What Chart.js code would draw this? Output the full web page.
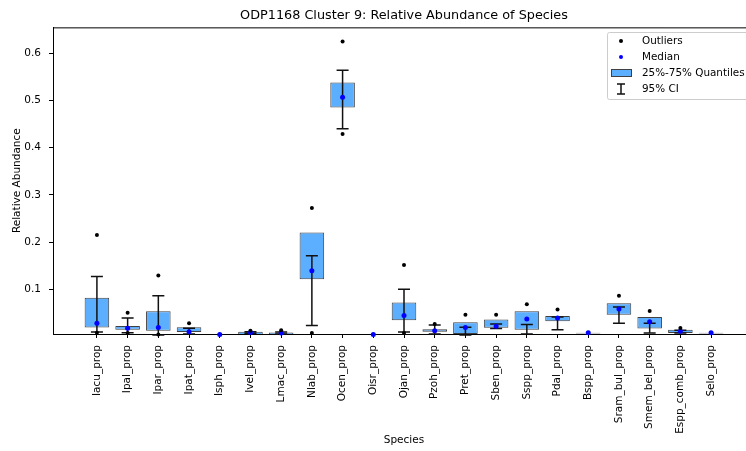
<!DOCTYPE html>
<html>
<head>
<meta charset="utf-8">
<script src="https://cdn.jsdelivr.net/npm/chart.js@4/dist/chart.umd.min.js"></script>
<style>
  html, body { margin: 0; padding: 0; overflow: hidden; background: #fff; }
  #wrap { width: 760px; height: 451px; }
</style>
</head>
<body>
<div id="wrap"><canvas id="chart" width="760" height="451"></canvas></div>
<script>
// ===== Datos =====
const species = ['Iacu_prop','Ipal_prop','Ipar_prop','Ipat_prop','Isph_prop','Ivel_prop','Lmac_prop',
  'Nlab_prop','Ocen_prop','Oisr_prop','Ojan_prop','Pzoh_prop','Pret_prop','Sben_prop','Sspp_prop',
  'Pdal_prop','Bspp_prop','Sram_bul_prop','Smem_bel_prop','Espp_comb_prop','Selo_prop'];

const q25    = [0.019, 0.014, 0.012, 0.009, null, 0.003, 0.003, 0.121, 0.485, null, 0.034, 0.010, 0.005, 0.018, 0.014, 0.032, 0.006, 0.046, 0.0165, 0.007, 0.006];
const q75    = [0.082, 0.022, 0.053, 0.0195, null, 0.010, 0.008, 0.220, 0.538, null, 0.072, 0.015, 0.030, 0.036, 0.053, 0.043, 0.0075, 0.070, 0.041, 0.014, 0.0075];
const median = [0.028, 0.017, 0.019, 0.010, 0.004, 0.008, 0.007, 0.139, 0.507, 0.004, 0.044, 0.012, 0.019, 0.0215, 0.037, 0.039, 0.0075, 0.058, 0.031, 0.011, 0.0075];
const ciLo   = [0.009, 0.0075, 0.003, 0.005, null, 0.006, 0.005, 0.023, 0.440, null, 0.0095, 0.005, 0.003, 0.0165, 0.005, 0.014, null, 0.028, 0.007, 0.007, null];
const ciHi   = [0.127, 0.039, 0.086, 0.017, null, 0.010, 0.009, 0.171, 0.564, null, 0.100, 0.024, 0.0195, 0.026, 0.025, 0.041, null, 0.062, 0.028, 0.013, null];
const outHi  = [0.215, 0.050, 0.129, 0.028, null, 0.012, 0.013, 0.272, 0.625, null, 0.151, 0.026, 0.046, 0.046, 0.068, 0.057, null, 0.086, 0.054, 0.0175, null];
const outLo  = [0.0075, 0.007, 0.004, null, null, null, null, 0.007, 0.429, null, 0.007, null, null, null, null, null, null, null, null, null, null];

const yTicks = [0.1, 0.2, 0.3, 0.4, 0.5, 0.6];

// ===== Armado de datasets =====
const boxData = species.map((_, i) => q25[i] != null ? { x: i, y: [q25[i], q75[i]] } : null).filter(Boolean);
const medData = species.map((_, i) => ({ x: i, y: median[i] }));
const outData = [];
species.forEach((_, i) => {
  if (outHi[i] != null) outData.push({ x: i, y: outHi[i] });
  if (outLo[i] != null) outData.push({ x: i, y: outLo[i] });
});

Chart.defaults.font.family = 'DejaVu Sans';
Chart.defaults.font.size = 10.5;
Chart.defaults.color = '#000';

// Barras de error (IC 95%) dibujadas justo después de las cajas
const ciPlugin = {
  id: 'ci',
  afterDatasetDraw(chart, args) {
    if (args.index !== 0) return;
    const { ctx, scales: { x, y } } = chart;
    ctx.save();
    ctx.strokeStyle = '#111';
    ctx.lineWidth = 1.5;
    species.forEach((_, i) => {
      if (ciLo[i] == null) return;
      const px = x.getPixelForValue(i);
      const p1 = y.getPixelForValue(ciLo[i]);
      const p2 = y.getPixelForValue(ciHi[i]);
      ctx.beginPath();
      ctx.moveTo(px, p1); ctx.lineTo(px, p2);
      ctx.moveTo(px - 6, p1); ctx.lineTo(px + 6, p1);
      ctx.moveTo(px - 6, p2); ctx.lineTo(px + 6, p2);
      ctx.stroke();
    });
    ctx.restore();
  }
};

// Marco superior + leyenda estilo matplotlib
const framePlugin = {
  id: 'frame',
  afterDraw(chart) {
    const { ctx, chartArea: a } = chart;
    ctx.save();
    ctx.strokeStyle = '#000';
    ctx.lineWidth = 1;
    ctx.beginPath();
    ctx.moveTo(a.left, a.top + 0.5); ctx.lineTo(a.right, a.top + 0.5);
    ctx.moveTo(a.right - 0.5, a.top); ctx.lineTo(a.right - 0.5, a.bottom);
    ctx.stroke();

    // leyenda
    const lx = 607.5, ly = 32.5;
    ctx.fillStyle = 'rgba(255,255,255,0.85)';
    ctx.strokeStyle = '#cccccc';
    ctx.beginPath();
    ctx.roundRect(lx, ly, 150, 67, 2);
    ctx.fill(); ctx.stroke();

    const mx = 621, tx = 642;
    const rows = [41, 57, 73, 89];
    ctx.fillStyle = '#000';
    ctx.beginPath(); ctx.arc(mx, rows[0], 2, 0, Math.PI * 2); ctx.fill();
    ctx.fillStyle = '#0000ff';
    ctx.beginPath(); ctx.arc(mx, rows[1], 2, 0, Math.PI * 2); ctx.fill();
    ctx.fillStyle = '#5caeff';
    ctx.strokeStyle = '#404040';
    ctx.fillRect(611.5, rows[2] - 3.5, 20, 7);
    ctx.strokeRect(611.5, rows[2] - 3.5, 20, 7);
    ctx.strokeStyle = '#111';
    ctx.lineWidth = 1.5;
    ctx.beginPath();
    ctx.moveTo(mx, rows[3] - 5); ctx.lineTo(mx, rows[3] + 5);
    ctx.moveTo(mx - 4, rows[3] - 5); ctx.lineTo(mx + 4, rows[3] - 5);
    ctx.moveTo(mx - 4, rows[3] + 5); ctx.lineTo(mx + 4, rows[3] + 5);
    ctx.stroke();

    ctx.fillStyle = '#000';
    ctx.font = '10.4px "DejaVu Sans"';
    ctx.textBaseline = 'middle';
    ctx.textAlign = 'left';
    ['Outliers', 'Median', '25%-75% Quantiles', '95% CI'].forEach((t, k) => ctx.fillText(t, tx, rows[k]));
    ctx.restore();
  }
};

new Chart(document.getElementById('chart'), {
  type: 'bar',
  data: {
    datasets: [
      { type: 'bar', label: '25%-75% Quantiles', data: boxData, backgroundColor: '#5caeff',
        borderColor: '#404040', borderWidth: 1, borderSkipped: false,
        barPercentage: 0.8, categoryPercentage: 1, order: 3 },
      { type: 'scatter', label: 'Median', data: medData, backgroundColor: '#0000ff',
        pointRadius: 2.5, pointBorderWidth: 0, clip: false, order: 2 },
      { type: 'scatter', label: 'Outliers', data: outData, backgroundColor: '#000',
        pointRadius: 2, pointBorderWidth: 0, clip: false, order: 1 }
    ]
  },
  options: {
    responsive: false,
    animation: false,
    devicePixelRatio: 1,
    layout: { padding: { left: 0, right: 5, top: 0, bottom: 0 } },
    plugins: {
      legend: { display: false },
      tooltip: { enabled: false },
      title: { display: true, text: 'ODP1168 Cluster 9: Relative Abundance of Species', fullSize: false,
               font: { size: 12.8, weight: 'normal' }, color: '#000', padding: { top: 8, bottom: 4 } }
    },
    scales: {
      x: {
        type: 'linear', min: -1.43, max: 21.43, offset: false,
        afterBuildTicks: s => { s.ticks = species.map((_, i) => ({ value: i })); },
        afterFit: s => { s.height = 117; },
        grid: { display: true, offset: false, drawOnChartArea: false, tickLength: 4, color: '#000' },
        border: { display: true, color: '#000', width: 1 },
        ticks: { autoSkip: false, minRotation: 90, maxRotation: 90, padding: 7, color: '#000',
                 callback: v => species[v] ?? '' },
        title: { display: true, text: 'Species', color: '#000', padding: { top: 0, bottom: 4 } }
      },
      y: {
        type: 'linear', min: 0.005, max: 0.655,
        afterBuildTicks: s => { s.ticks = yTicks.map(v => ({ value: v })); },
        afterFit: s => { s.width = 53; },
        grid: { display: true, drawOnChartArea: false, tickLength: 4, color: '#000' },
        border: { display: true, color: '#000', width: 1 },
        ticks: { padding: 8, color: '#000', callback: v => v.toFixed(1) },
        title: { display: true, text: 'Relative Abundance', color: '#000', padding: { top: 11, bottom: 0 } }
      }
    }
  },
  plugins: [ciPlugin, framePlugin]
});
</script>
</body>
</html>
